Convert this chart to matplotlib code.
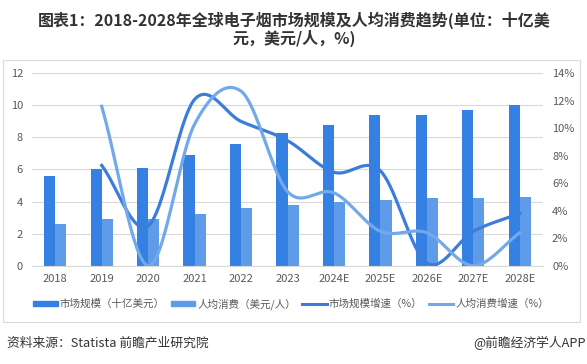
import matplotlib
matplotlib.use("Agg")
import matplotlib.pyplot as plt
import numpy as np
from matplotlib.patches import Rectangle, Patch
from matplotlib.lines import Line2D

plt.rcParams['font.family'] = ['Noto Sans CJK SC', 'DejaVu Sans']

years = ["2018", "2019", "2020", "2021", "2022", "2023", "2024E", "2025E", "2026E", "2027E", "2028E"]
market_size = [5.6, 6.0, 6.1, 6.9, 7.6, 8.3, 8.8, 9.4, 9.4, 9.7, 10.0]
per_capita = [2.6, 2.9, 2.9, 3.2, 3.6, 3.8, 4.0, 4.1, 4.2, 4.2, 4.3]
market_growth = [None, 7.3, 2.9, 12.1, 10.5, 9.1, 6.8, 6.9, 0.2, 2.5, 3.8]
percap_growth = [None, 11.6, 0.0, 10.3, 12.7, 5.4, 5.3, 2.5, 2.4, 0.0, 2.4]

c_bar1 = "#3480E3"
c_bar2 = "#5E9BE8"
c_line1 = "#3C7DDA"
c_line2 = "#72A9EA"


def smooth(xs, ys, n=40):
    xs = np.asarray(xs, float)
    ys = np.asarray(ys, float)
    outx, outy = [], []
    m = len(xs)
    for i in range(m - 1):
        p0 = ys[i - 1] if i > 0 else ys[i]
        p3 = ys[i + 2] if i + 2 < m else ys[i + 1]
        p1, p2 = ys[i], ys[i + 1]
        t1 = (p2 - p0) / 2 if i > 0 else (p2 - p1)
        t2 = (p3 - p1) / 2 if i + 2 < m else (p2 - p1)
        t = np.linspace(0, 1, n)
        h00 = 2 * t**3 - 3 * t**2 + 1
        h10 = t**3 - 2 * t**2 + t
        h01 = -2 * t**3 + 3 * t**2
        h11 = t**3 - t**2
        outy.extend(h00 * p1 + h10 * t1 + h01 * p2 + h11 * t2)
        outx.extend(xs[i] + t * (xs[i + 1] - xs[i]))
    return np.array(outx), np.array(outy)


fig = plt.figure(figsize=(5.87, 3.64), dpi=100)
fig.patch.set_facecolor("white")

# outer frame
fig.add_artist(Rectangle((3 / 587, 1 - 322 / 364), 577 / 587, 262 / 364,
                         transform=fig.transFigure, fill=False,
                         edgecolor="#D9D9D9", linewidth=0.8))

ax = fig.add_axes([32 / 587, 1 - 265.7 / 364, 511 / 587, 192.4 / 364])
x = np.arange(len(years))
w = 0.24
ax.bar(x - w / 2, market_size, width=w, color=c_bar1, zorder=2)
ax.bar(x + w / 2, per_capita, width=w, color=c_bar2, zorder=2)
ax.set_ylim(0, 12)
ax.set_yticks(range(0, 13, 2))
ax.set_xlim(-0.5, len(years) - 0.5)
ax.set_xticks(x)
ax.set_xticklabels(years)
ax.yaxis.grid(True, color="#D9D9D9", linewidth=0.8, zorder=0)
ax.set_axisbelow(True)
for s in ax.spines.values():
    s.set_visible(False)
ax.spines['bottom'].set_visible(True)
ax.spines['bottom'].set_color("#D9D9D9")
ax.tick_params(axis='both', length=0, labelsize=8, colors="#595959")
ax.tick_params(axis='y', pad=6.5)
ax.tick_params(axis='x', pad=6)

ax2 = ax.twinx()
ax2.set_ylim(0, 14)
ax2.set_yticks(range(0, 15, 2))
ax2.set_yticklabels([f"{v}%" for v in range(0, 15, 2)])
for s in ax2.spines.values():
    s.set_visible(False)
ax2.tick_params(axis='y', length=0, labelsize=8, colors="#595959", pad=6.5)

gx = [i for i, v in enumerate(market_growth) if v is not None]
sx, sy = smooth(gx, [market_growth[i] for i in gx])
ax2.plot(sx, sy, color=c_line1, linewidth=2.3, zorder=3)
gx2 = [i for i, v in enumerate(percap_growth) if v is not None]
sx2, sy2 = smooth(gx2, [percap_growth[i] for i in gx2])
ax2.plot(sx2, sy2, color=c_line2, linewidth=2.3, zorder=3)

handles = [Patch(color=c_bar1), Patch(color=c_bar2),
           Line2D([0], [0], color=c_line1, lw=2.2),
           Line2D([0], [0], color=c_line2, lw=2.2)]
labels = ["市场规模（十亿美元）", "人均消费（美元/人）", "市场规模增速（%）", "人均消费增速（%）"]
leg = fig.legend(handles, labels, loc="center", bbox_to_anchor=(291 / 587, 1 - 304 / 364),
                 ncol=4, frameon=False, fontsize=7.6, handlelength=2.3, handleheight=0.4,
                 handletextpad=0.2, columnspacing=0.6)
for t in leg.get_texts():
    t.set_color("#595959")

fig.text(294 / 587, 1 - 20 / 364, "图表1：2018-2028年全球电子烟市场规模及人均消费趋势(单位：十亿美",
         ha="center", va="center", fontsize=11.5, fontweight="bold", color="#333333")
fig.text(294 / 587, 1 - 38.5 / 364, "元，美元/人，%)",
         ha="center", va="center", fontsize=11.5, fontweight="bold", color="#333333")

fig.text(7 / 587, 1 - 343 / 364, "资料来源：Statista 前瞻产业研究院",
         ha="left", va="center", fontsize=9.2, color="#333333")
fig.text(586 / 587, 1 - 343 / 364, "@前瞻经济学人APP",
         ha="right", va="center", fontsize=9.2, color="#333333")

fig.savefig("out.png", dpi=100, facecolor="white")
